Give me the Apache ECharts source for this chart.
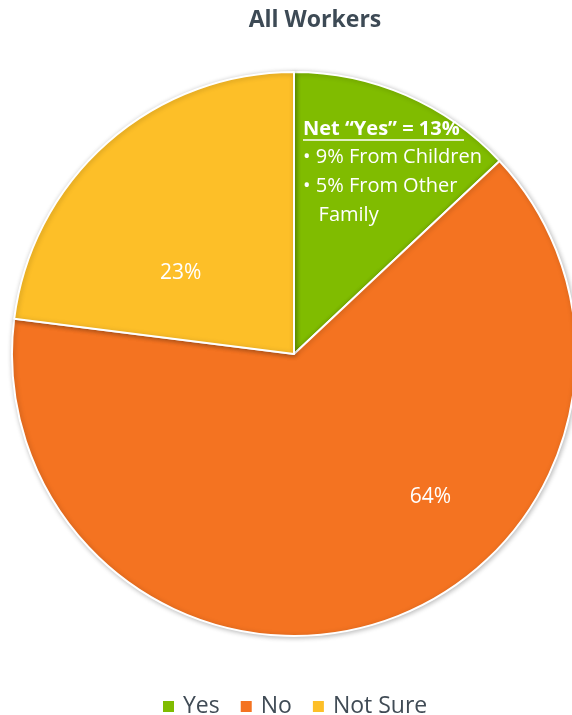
<!DOCTYPE html>
<html><head><meta charset="utf-8">
<script src="https://cdn.jsdelivr.net/npm/echarts@6/dist/echarts.min.js"></script>
<style>html,body{margin:0;padding:0;background:#fff}#c{width:572px;height:715px}</style>
</head><body><div id="c"></div>
<script>
const title = 'All Workers';
const categories = ['Yes', 'No', 'Not Sure'];
const values = [13, 64, 23];
const colors = ['#80bc00', '#f47321', '#fdbf28'];
const yesNoteHeading = 'Net \u201cYes\u201d = 13%';
const yesNoteLines = ['\u2022 9% From Children', '\u2022 5% From Other', '   Family'];

const labelOffsets = [[0, 0], [92, 6], [-18, 27]];
const FONT = '"Open Sans", "Liberation Sans", sans-serif';

const chart = echarts.init(document.getElementById('c'));
chart.setOption({
  backgroundColor: '#fff',
  animation: false,
  title: {
    text: title, left: 310, top: 4, textAlign: 'center',
    textStyle: { fontFamily: FONT, fontSize: 23, fontWeight: 'bold', color: '#3d4a55' }
  },
  legend: {
    data: categories, left: 156, top: 690, itemWidth: 13, itemHeight: 13, itemGap: 19,
    icon: 'rect',
    textStyle: { fontFamily: FONT, fontSize: 23, color: '#404b55', padding: [0, 0, 0, 3] }
  },
  series: [{
    type: 'pie',
    center: [294, 354],
    radius: [0, 282],
    startAngle: 90,
    clockwise: true,
    avoidLabelOverlap: false,
    itemStyle: { borderColor: '#fff', borderWidth: 2, shadowBlur: 5, shadowColor: 'rgba(0,0,0,0.25)', shadowOffsetX: 1, shadowOffsetY: 1 },
    label: { show: true, position: 'inside', formatter: '{c}%', color: '#fff', fontFamily: FONT, fontSize: 21 },
    labelLine: { show: false },
    emphasis: { disabled: true },
    data: categories.map((n, i) => ({
      name: n, value: values[i],
      itemStyle: { color: colors[i] },
      label: i === 0 ? { show: false } : { offset: labelOffsets[i] }
    }))
  }],
  graphic: [
    { type: 'text', z: 100, left: 303, top: 119, style: { text: yesNoteHeading, fill: '#fff', font: 'bold 20px ' + FONT } },
    { type: 'line', z: 100, shape: { x1: 303, y1: 140, x2: 464, y2: 140 }, style: { stroke: '#fff', lineWidth: 1.5 } },
    { type: 'text', z: 100, left: 303, top: 143, style: { text: yesNoteLines.join('\n'), fill: '#fff', font: '20px ' + FONT, lineHeight: 29 } }
  ]
});
</script></body></html>
